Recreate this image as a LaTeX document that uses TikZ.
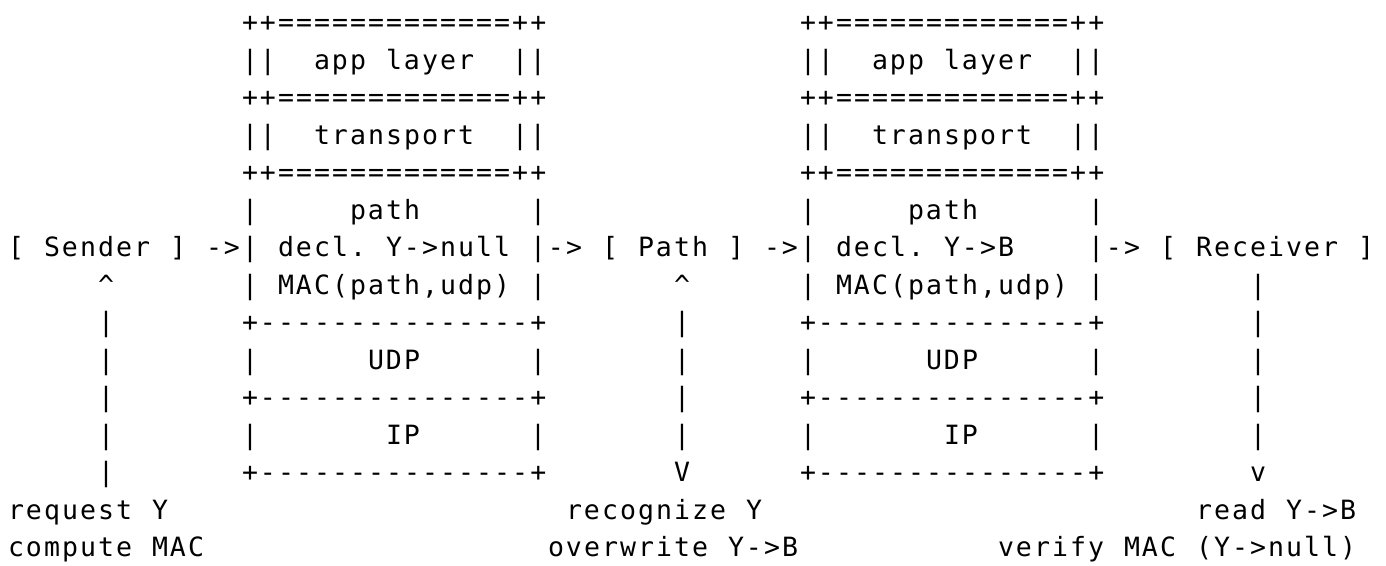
\documentclass[tikz,border=0pt]{standalone}
\usepackage{fontspec}
\setmonofont[LetterSpace=7.7]{DejaVu Sans Mono}
\tikzset{
  txt/.style={font=\ttfamily\fontsize{19.9pt}{21pt}\selectfont, text=black,
    inner sep=0pt, outer sep=0pt, anchor=base west}
}
% #1 = column, #2 = row, #3 = text
\newcommand\At[3]{\node[txt] (r#2c#1) at ({8+#1*18},{31.6+(#2-1)*37.5}) {#3};}
\begin{document}
\begin{tikzpicture}[x=0.75pt,y=-0.75pt]
\fill[white] (0,0) rectangle (1386,565);
\useasboundingbox (0,0) rectangle (1386,565);
% row 1
\At{13}{1}{++=============++}
\At{44}{1}{++=============++}
% row 2
\At{13}{2}{||}\At{17}{2}{app}\At{21}{2}{layer}\At{28}{2}{||}
\At{44}{2}{||}\At{48}{2}{app}\At{52}{2}{layer}\At{59}{2}{||}
% row 3
\At{13}{3}{++=============++}
\At{44}{3}{++=============++}
% row 4
\At{13}{4}{||}\At{17}{4}{transport}\At{28}{4}{||}
\At{44}{4}{||}\At{48}{4}{transport}\At{59}{4}{||}
% row 5
\At{13}{5}{++=============++}
\At{44}{5}{++=============++}
% row 6
\At{13}{6}{|}\At{19}{6}{path}\At{29}{6}{|}
\At{44}{6}{|}\At{50}{6}{path}\At{60}{6}{|}
% row 7
\At{0}{7}{[}\At{2}{7}{Sender}\At{9}{7}{]}\At{11}{7}{->|}
\At{15}{7}{decl.}\At{21}{7}{Y->null}\At{29}{7}{|->}
\At{33}{7}{[}\At{35}{7}{Path}\At{40}{7}{]}\At{42}{7}{->|}
\At{46}{7}{decl.}\At{52}{7}{Y->B}\At{60}{7}{|->}
\At{64}{7}{[}\At{66}{7}{Receiver}\At{75}{7}{]}
% row 8
\At{5}{8}{\textasciicircum}\At{13}{8}{|}\At{15}{8}{MAC(path,udp)}\At{29}{8}{|}
\At{37}{8}{\textasciicircum}\At{44}{8}{|}\At{46}{8}{MAC(path,udp)}\At{60}{8}{|}
\At{69}{8}{|}
% row 9
\At{5}{9}{|}\At{13}{9}{+---------------+}\At{37}{9}{|}
\At{44}{9}{+---------------+}\At{69}{9}{|}
% row 10
\At{5}{10}{|}\At{13}{10}{|}\At{20}{10}{UDP}\At{29}{10}{|}\At{37}{10}{|}
\At{44}{10}{|}\At{51}{10}{UDP}\At{60}{10}{|}\At{69}{10}{|}
% row 11
\At{5}{11}{|}\At{13}{11}{+---------------+}\At{37}{11}{|}
\At{44}{11}{+---------------+}\At{69}{11}{|}
% row 12
\At{5}{12}{|}\At{13}{12}{|}\At{21}{12}{IP}\At{29}{12}{|}\At{37}{12}{|}
\At{44}{12}{|}\At{52}{12}{IP}\At{60}{12}{|}\At{69}{12}{|}
% row 13
\At{5}{13}{|}\At{13}{13}{+---------------+}\At{37}{13}{V}
\At{44}{13}{+---------------+}\At{69}{13}{v}
% row 14
\At{0}{14}{request}\At{8}{14}{Y}
\At{31}{14}{recognize}\At{41}{14}{Y}
\At{66}{14}{read}\At{71}{14}{Y->B}
% row 15
\At{0}{15}{compute}\At{8}{15}{MAC}
\At{30}{15}{overwrite}\At{40}{15}{Y->B}
\At{55}{15}{verify}\At{62}{15}{MAC}\At{66}{15}{(Y->null)}
\end{tikzpicture}
\end{document}
